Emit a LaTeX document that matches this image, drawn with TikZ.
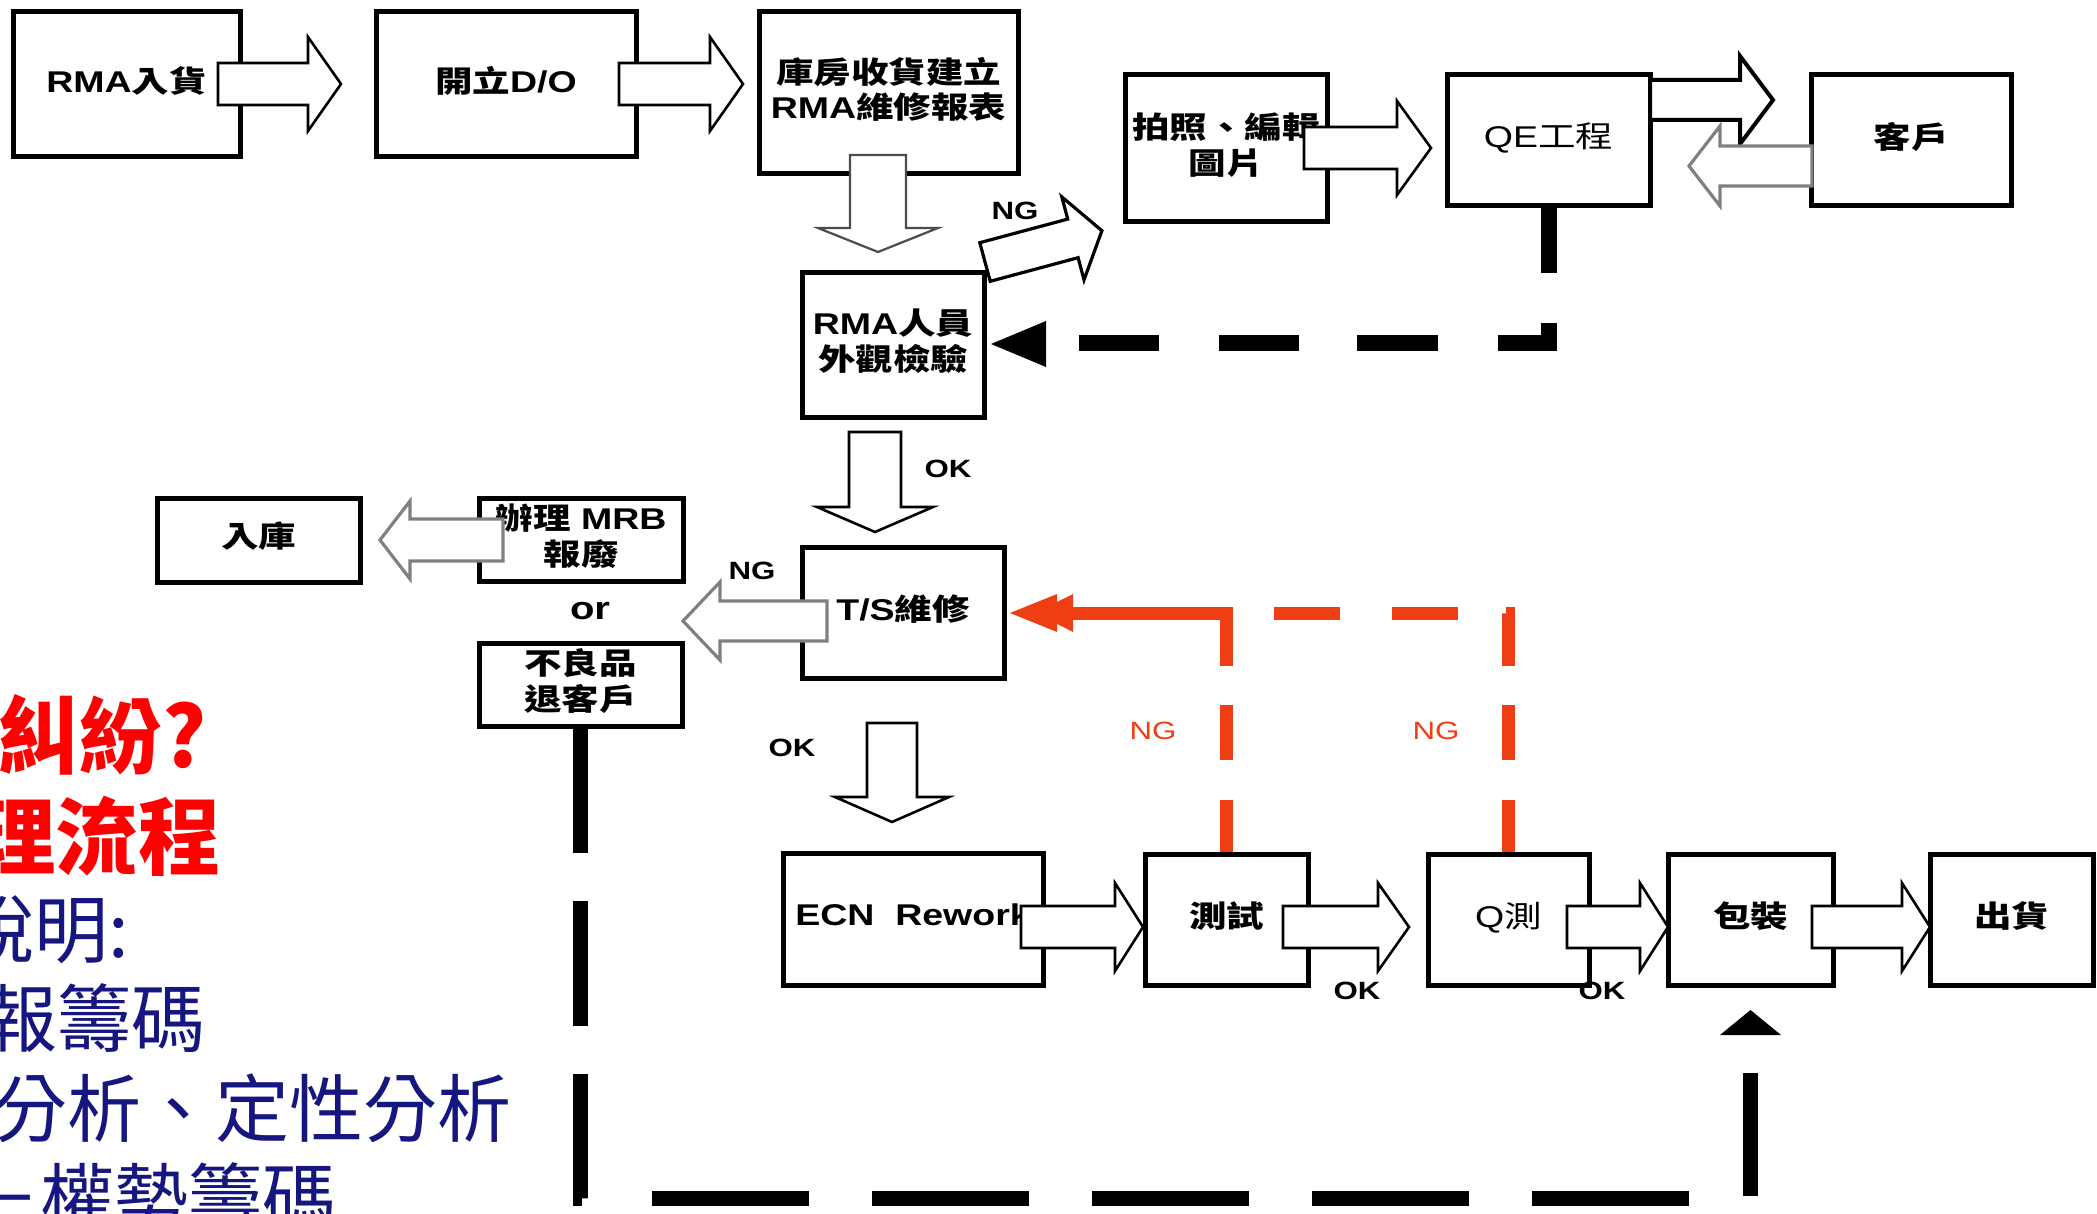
\documentclass[tikz,border=0pt]{standalone}
\usepackage{fontspec}
\setmainfont{Noto Sans CJK TC}
\newfontfamily\ar{Liberation Sans}
\usetikzlibrary{calc}
\definecolor{redor}{RGB}{240,62,20}
\definecolor{navyt}{RGB}{22,22,128}
\definecolor{redt}{RGB}{255,0,0}
\newcommand\tx[1]{\scalebox{1.25}[1]{\begin{tabular}{@{}c@{}}#1\end{tabular}}}
\newcommand\bbox[7][]{\node[boxn,#1, minimum width={(#5-#3)*0.5pt}, minimum height={(#6-#4)*0.5pt}] (#2) at ({(#3+#5)/2},{(#4+#6)/2}) {\tx{#7}};}
% horizontal block arrow: style, tail x, head-base x, tip x, centre y, shaft half, head half
\newcommand\harr[7]{\draw[#1] (#2,#5-#6) -- (#3,#5-#6) -- (#3,#5-#7) -- (#4,#5) -- (#3,#5+#7) -- (#3,#5+#6) -- (#2,#5+#6) -- cycle;}
% vertical block arrow: style, tail y, head-base y, tip y, centre x, shaft half, head half
\newcommand\varr[7]{\draw[#1] (#5-#6,#2) -- (#5-#6,#3) -- (#5-#7,#3) -- (#5,#4) -- (#5+#7,#3) -- (#5+#6,#3) -- (#5+#6,#2) -- cycle;}
\tikzset{
  boxn/.style={draw=black, line width=2.5pt, fill=white, inner sep=0pt, align=center,
    font=\fontsize{15pt}{17pt}\selectfont\bfseries},
  barrow/.style={draw=black, fill=white, line width=1.3pt, line join=miter},
  garrow/.style={draw=black!50, fill=white, line width=1.6pt, line join=miter},
  lbl/.style={inner sep=0pt, font=\ar\bfseries\fontsize{12.5pt}{14pt}\selectfont},
  rlbl/.style={inner sep=0pt, text=redor, font=\ar\fontsize{12.5pt}{14pt}\selectfont},
  redline/.style={draw=redor, line width=6.5pt, line cap=butt, line join=miter},
  blkline/.style={draw=black, line cap=butt, line join=miter},
  redtxt/.style={anchor=west, inner sep=0pt, text=redt, font=\bfseries\fontsize{42pt}{42pt}\selectfont},
  navytxt/.style={anchor=west, inner sep=0pt, text=navyt, font=\fontsize{37pt}{37pt}\selectfont}
}
\begin{document}
\begin{tikzpicture}[x=0.5pt,y=-0.5pt]
\fill[white] (0,0) rectangle (2097,1214);
\useasboundingbox (0,0) rectangle (2097,1214);
\clip (0,0) rectangle (2097,1214);

% left slide text (partly cut off)
\node[redtxt] (r1) at (-3,735) {\scalebox{0.98}[1]{糾紛?}};
\node[redtxt] (r2) at (-27,836) {\scalebox{0.98}[1]{理流程}};
\node[navytxt] (n1) at (-40,930) {說明:};
\node[navytxt] (n2) at (-17,1018) {報籌碼};
\node[navytxt] (n3) at (-7,1108) {分析、定性分析};
\node[navytxt] (n4) at (-34,1197) {－權勢籌碼};

% boxes
\bbox{b1}{13}{12}{240}{157}{{\ar RMA}入貨}
\bbox{b2}{376}{12}{636}{157}{開立{\ar D/O}}
\bbox{b3}{759}{12}{1018}{174}{庫房收貨建立\\{\ar RMA}維修報表}
\bbox{b4}{1125}{75}{1327}{222}{拍照、編輯\\圖片}
\bbox[font=\fontsize{15pt}{17pt}\selectfont]{qe}{1447}{75}{1650}{206}{{\ar QE}工程}
\bbox{cu}{1811}{75}{2011}{206}{客戶}
\bbox{rma}{802}{272}{984}{417}{{\ar RMA}人員\\外觀檢驗}
\bbox{ts}{802}{547}{1004}{678}{{\ar T/S}維修}
\bbox{mrb}{479}{498}{683}{581}{辦理{\ar\ MRB}\\報廢}
\bbox{inv}{157}{498}{360}{582}{入庫}
\bbox{nb}{479}{643}{682}{726}{不良品\\退客戶}
\bbox{ecn}{783}{853}{1043}{985}{{\ar ECN\ \ Rework}}
\bbox{test}{1145}{854}{1308}{985}{測試}
\bbox[font=\fontsize{15pt}{17pt}\selectfont]{qm}{1428}{854}{1589}{985}{{\ar Q}測}
\bbox{pk}{1668}{854}{1833}{985}{包裝}
\bbox{sh}{1930}{854}{2093}{985}{出貨}

% block arrows
\harr{barrow}{218}{308}{341}{84}{21}{47}
\harr{barrow}{619}{710}{743}{84}{21}{47}
\harr{barrow}{1304}{1397}{1431}{148}{21}{47}
\harr{barrow, line width=2pt}{1650}{1740}{1773}{100}{20}{44}
\harr{garrow}{1812}{1720}{1689}{166}{20}{40}
\harr{garrow}{503}{410}{380}{540}{21}{39}
\harr{garrow}{827}{720}{683}{621}{20}{39}
\harr{barrow}{1021}{1115}{1143}{927}{21}{44}
\harr{barrow}{1283}{1378}{1409}{927}{21}{44}
\harr{barrow}{1567}{1640}{1668}{927}{21}{44}
\harr{barrow}{1812}{1902}{1930}{927}{21}{44}
\varr{barrow, draw=black!70, line width=1.1pt}{155}{228}{252}{878}{28}{60}
\varr{barrow}{432}{507}{532}{875}{26}{58}
\varr{barrow}{723}{797}{822}{892}{25}{57}
% tilted NG arrow
\draw[barrow, line width=1.6pt] (979.8,242.7) -- (1067.7,219.1) -- (1061.8,196.9) -- (1101.9,230.7)
  -- (1084,279.9) -- (1078.1,257.7) -- (990.2,281.3) -- cycle;

% labels
\node[lbl] (ngA) at (1015,214) {\tx{NG}};
\node[lbl] (ngB) at (752,574) {\tx{NG}};
\node[lbl] (okA) at (948,472) {\tx{OK}};
\node[lbl] (okB) at (792,751) {\tx{OK}};
\node[lbl] (okC) at (1357,994) {\tx{OK}};
\node[lbl] (okD) at (1602,994) {\tx{OK}};
\node[lbl, font=\ar\bfseries\fontsize{16pt}{18pt}\selectfont] (or) at (590,612) {\tx{or}};
\node[rlbl] (ngC) at (1153,734) {\tx{NG}};
\node[rlbl] (ngD) at (1436,734) {\tx{NG}};

% red NG feedback lines to T/S
\coordinate (tsr) at (1073,613);
\draw[redline, dash pattern=on 26pt off 20pt on 27.5pt off 19.5pt on 27.5pt off 24pt on 33pt off 26pt on 33pt off 26pt]
  (qm.north) -- (qm.north |- tsr) -- (test.north |- tsr);
\draw[redline, dash pattern=on 26pt off 20pt on 27.5pt off 19.5pt on 500pt]
  (test.north) -- (test.north |- tsr) -- (tsr);
\fill[redor] (1010,613) -- (1057,594) -- (1057,632) -- cycle;
\fill[redor] (1035,613) -- (1073,594) -- (1073,632) -- cycle;

% black dashed from QE back to RMA inspection
\coordinate (rmaend) at (1046,343);
\draw[blkline, line width=8pt, dash pattern=on 32pt off 25pt on 35.5pt off 30pt on 40.5pt off 29pt on 40pt off 30pt on 40pt off 17pt]
  (qe.south) -- (qe.south |- rmaend) -- (rmaend);
\fill (991,344) -- (1046,321) -- (1046,367) -- cycle;

% black dashed from reject box to packing
\coordinate (bl) at (580,1198);
\coordinate (pkt) at ($(pk.south)+(0,48)$);
\draw[blkline, line width=7.5pt, dash pattern=on 62pt off 24pt on 62.5pt off 24pt on 62.5pt off 35.5pt on 78.5pt off 31.5pt on 78.5pt off 31.5pt on 78.5pt off 31.5pt on 78.5pt off 31.5pt on 78.5pt off 32pt on 61.5pt off 20pt]
  (nb.south) -- (nb.south |- bl) -- (bl -| pk.south) -- (pkt);
\fill (pk.south |- 0,1010) -- (1720,1035) -- (1781,1035) -- cycle;
\end{tikzpicture}
\end{document}
